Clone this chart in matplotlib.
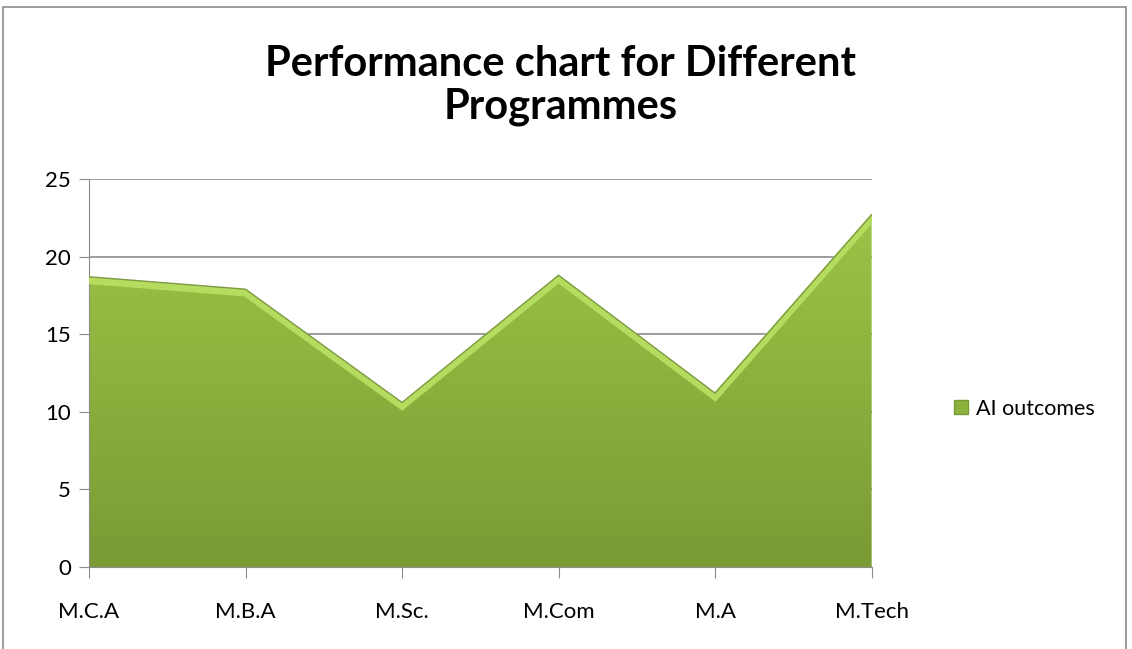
import matplotlib.pyplot as plt
import numpy as np
from matplotlib.patches import Rectangle, Polygon
from matplotlib.lines import Line2D
from matplotlib.colors import LinearSegmentedColormap

programmes = ["M.C.A", "M.B.A", "M.Sc.", "M.Com", "M.A", "M.Tech"]
ai_outcomes = [18.7, 17.9, 10.6, 18.8, 11.2, 22.7]
yticks = [0, 5, 10, 15, 20, 25]

plt.rcParams['font.family'] = ['Lato', 'DejaVu Sans']

fig = plt.figure(figsize=(11.32, 6.49), dpi=100)
ax = fig.add_axes([0.0786, 0.1263, 0.6914, 0.5979])

# outer chart frame
fig.patches.append(Rectangle((0.003, -0.1), 0.992, 1.089, transform=fig.transFigure,
                             fill=False, edgecolor='#8c8c8c', linewidth=1.2))

x = np.arange(len(programmes))

# gradient fill clipped to the area shape
grad = np.linspace(0, 1, 256).reshape(-1, 1)
cmap = LinearSegmentedColormap.from_list('g', ['#7a9a34', '#8db23e', '#9fc849'])
img = ax.imshow(grad, extent=[0, len(x) - 1, 0, 25], origin='lower', cmap=cmap,
                aspect='auto', zorder=2)
verts = list(zip(x, ai_outcomes)) + [(x[-1], 0), (0, 0)]
poly = Polygon(verts, closed=True, facecolor='none', edgecolor='none')
ax.add_patch(poly)
img.set_clip_path(poly)
# lighter bevel along top edge
ax.plot(x, np.array(ai_outcomes) - 0.25, color='#b5dc5e', linewidth=5, zorder=3,
        solid_joinstyle='miter')
ax.plot(x, ai_outcomes, color='#7f9a45', linewidth=1, zorder=4)

ax.set_xlim(0, len(x) - 1)
ax.set_ylim(0, 25)
ax.set_yticks(yticks)
ax.set_xticks(x)
ax.set_xticklabels(programmes)
ax.grid(axis='y', color='#8c8c8c', linewidth=1.2, zorder=0)
ax.set_axisbelow(True)
for s in ['top', 'right']:
    ax.spines[s].set_visible(False)
ax.spines['left'].set_color('#8c8c8c')
ax.spines['bottom'].set_color('#8c8c8c')
ax.tick_params(axis='y', length=7, color='#8c8c8c', labelsize=16, pad=6)
ax.tick_params(axis='x', length=8, color='#8c8c8c', labelsize=16, pad=17)

fig.text(0.495, 0.868, "Performance chart for Different\nProgrammes", ha='center',
         va='center', fontsize=30, fontweight='bold', linespacing=1.15)

handle = Line2D([], [], marker='s', linestyle='none', markersize=10,
                markerfacecolor='#8db23e', markeredgecolor='#7a9a34')
fig.legend([handle], ["AI outcomes"], loc='center left', bbox_to_anchor=(0.82, 0.37),
           frameon=False, fontsize=15.5, handletextpad=0.1, handlelength=1.2)

fig.savefig("out.png", dpi=100)
